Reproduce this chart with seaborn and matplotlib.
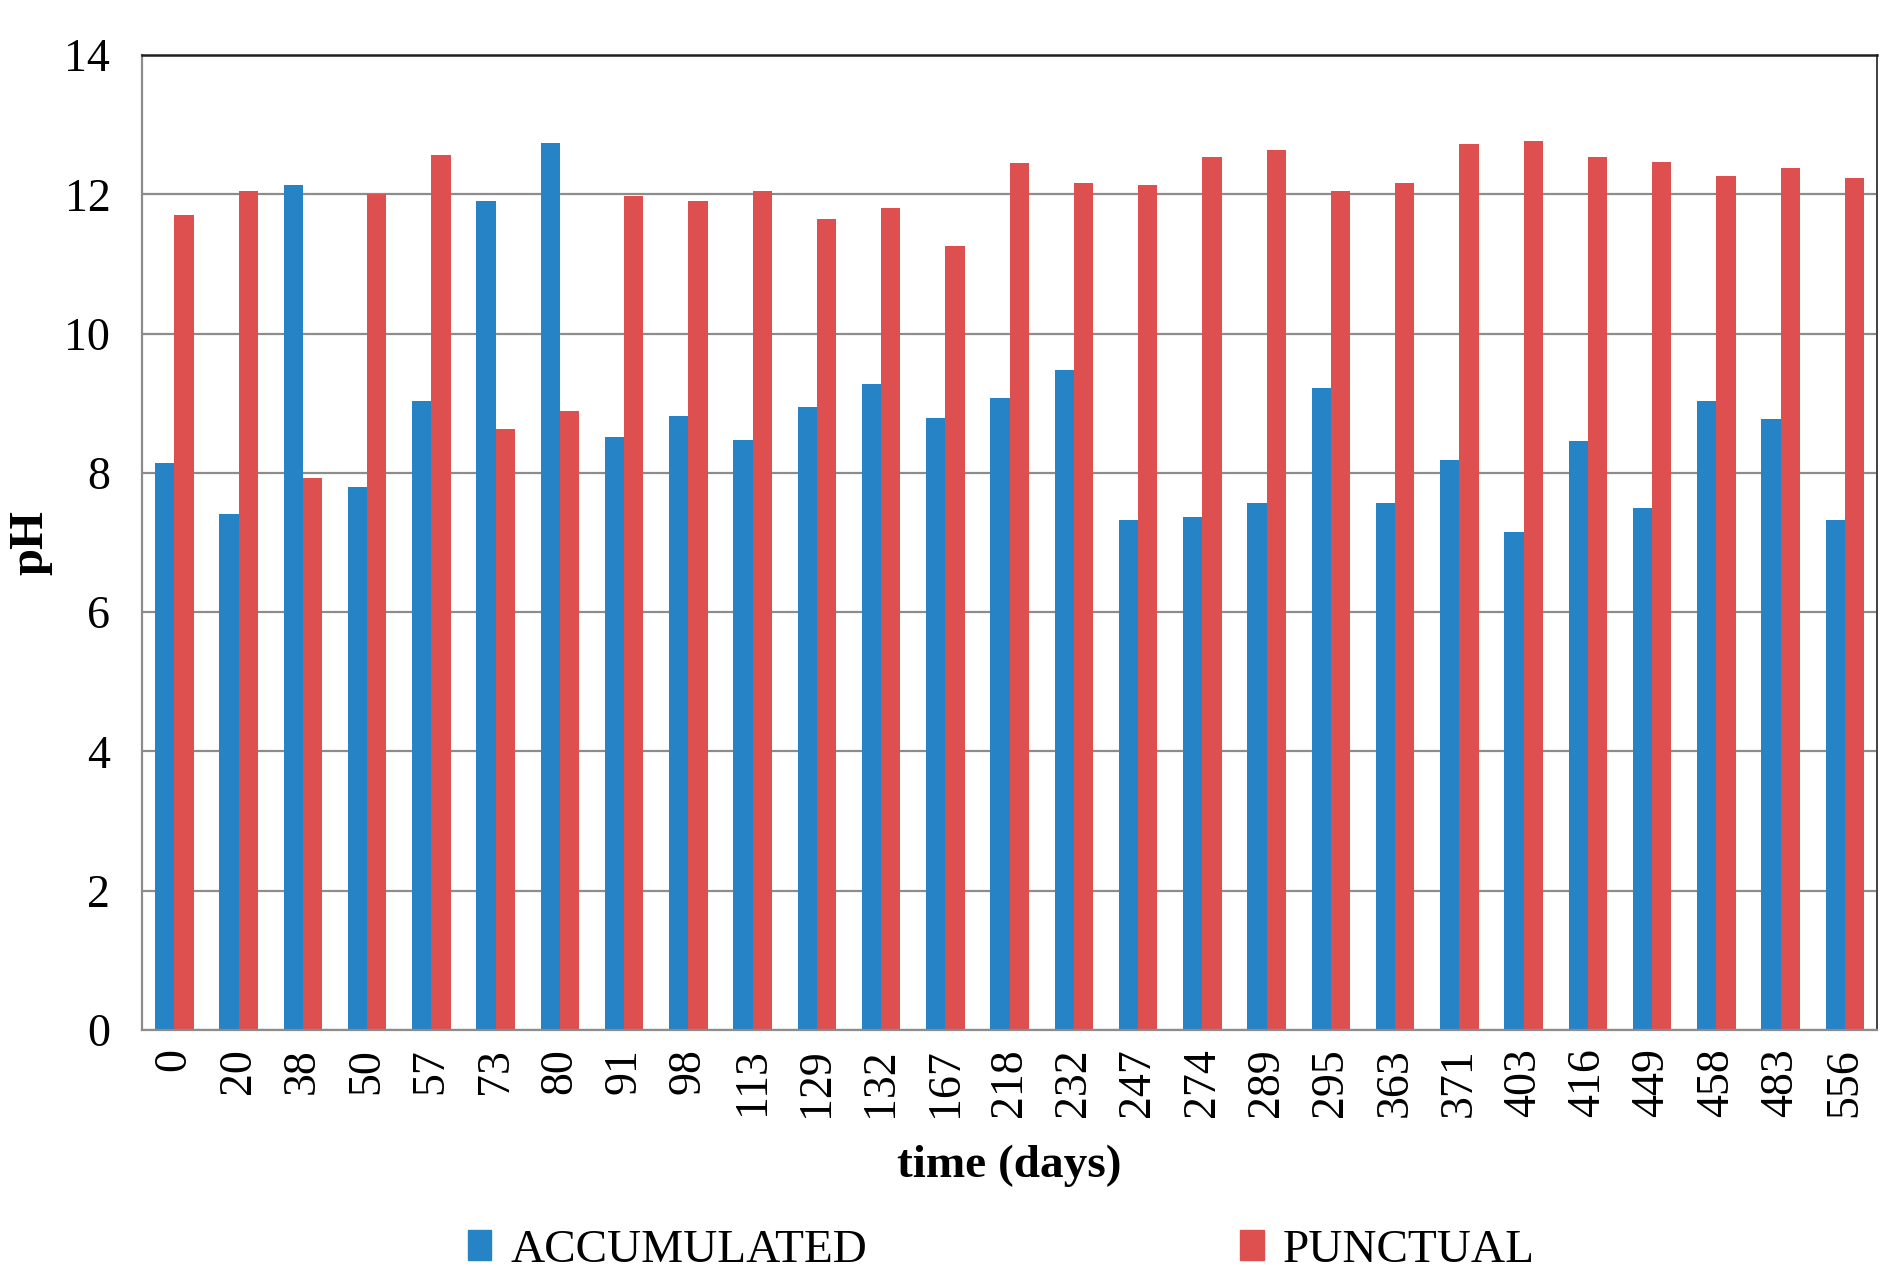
import pandas as pd
import numpy as np
import matplotlib
matplotlib.use("Agg")
import matplotlib.pyplot as plt
import seaborn as sns

# sampling days and pH readings
days = ["0", "20", "38", "50", "57", "73", "80", "91", "98", "113", "129", "132", "167", "218",
        "232", "247", "274", "289", "295", "363", "371", "403", "416", "449", "458", "483", "556"]
accumulated = [8.14, 7.41, 12.13, 7.79, 9.03, 11.91, 12.74, 8.52, 8.82, 8.47, 8.94, 9.27, 8.79, 9.08,
               9.48, 7.32, 7.36, 7.57, 9.22, 7.57, 8.19, 7.15, 8.46, 7.50, 9.03, 8.77, 7.32]
punctual = [11.70, 12.05, 7.93, 12.00, 12.57, 8.63, 8.89, 11.98, 11.91, 12.05, 11.65, 11.80, 11.26, 12.45,
            12.17, 12.13, 12.53, 12.64, 12.05, 12.17, 12.73, 12.76, 12.53, 12.47, 12.27, 12.38, 12.24]
series_names = ["ACCUMULATED", "PUNCTUAL"]
colors = ["#2683C6", "#DE5050"]

df = pd.DataFrame({
    "time": days * 2,
    "pH": accumulated + punctual,
    "series": [series_names[0]] * len(days) + [series_names[1]] * len(days),
})

sns.set_style("white")
plt.rcParams["font.family"] = ["Liberation Serif", "DejaVu Serif"]
plt.rcParams["text.color"] = "black"
plt.rcParams["axes.labelcolor"] = "black"

fig = plt.figure(figsize=(18.96, 12.81), dpi=100)
ax = fig.add_axes([0.075, 0.196, 0.915, 0.761])

sns.barplot(data=df, x="time", y="pH", hue="series", order=days, hue_order=series_names,
            palette=colors, width=0.6, saturation=1, linewidth=0, ax=ax)

ax.set_ylim(0, 14)
ax.set_xlim(-0.5, len(days) - 0.5)
ax.set_yticks(np.arange(0, 15, 2))
ax.yaxis.grid(True, color="#8c8c8c", linewidth=1.6)
ax.set_axisbelow(True)

# tick marks sit between the categories, labels at the centres
ax.set_xticks(np.arange(-0.5, len(days), 1), minor=True)
ax.tick_params(axis="x", which="major", length=0, pad=13, labelsize=33, labelrotation=90,
               labelcolor="black")
ax.tick_params(axis="x", which="minor", length=11, width=1.5, color="#8c8c8c", direction="out")
ax.tick_params(axis="y", which="major", length=9, width=1.5, color="#8c8c8c", direction="out",
               pad=14, labelsize=33, labelcolor="black")

for side in ["left", "bottom"]:
    ax.spines[side].set_color("#8c8c8c")
    ax.spines[side].set_linewidth(1.6)
ax.spines["top"].set_color("#202020")
ax.spines["top"].set_linewidth(1.8)
ax.spines["right"].set_color("#404040")
ax.spines["right"].set_linewidth(1.4)

ax.set_xlabel("time (days)", fontsize=34, fontweight="bold")
ax.set_ylabel("pH", fontsize=35, fontweight="bold")
ax.xaxis.set_label_coords(0.5, -0.118)
ax.yaxis.set_label_coords(-0.052, 0.5)

ax.get_legend().remove()
handles = [plt.Rectangle((0, 0), 1, 1, color=c) for c in colors]
fig.legend(handles, series_names, loc="center", bbox_to_anchor=(0.528, 0.024), ncol=2,
           frameon=False, fontsize=34, handlelength=0.5, handleheight=0.6,
           handletextpad=0.4, columnspacing=7.9)

fig.savefig("out.png", dpi=100)
